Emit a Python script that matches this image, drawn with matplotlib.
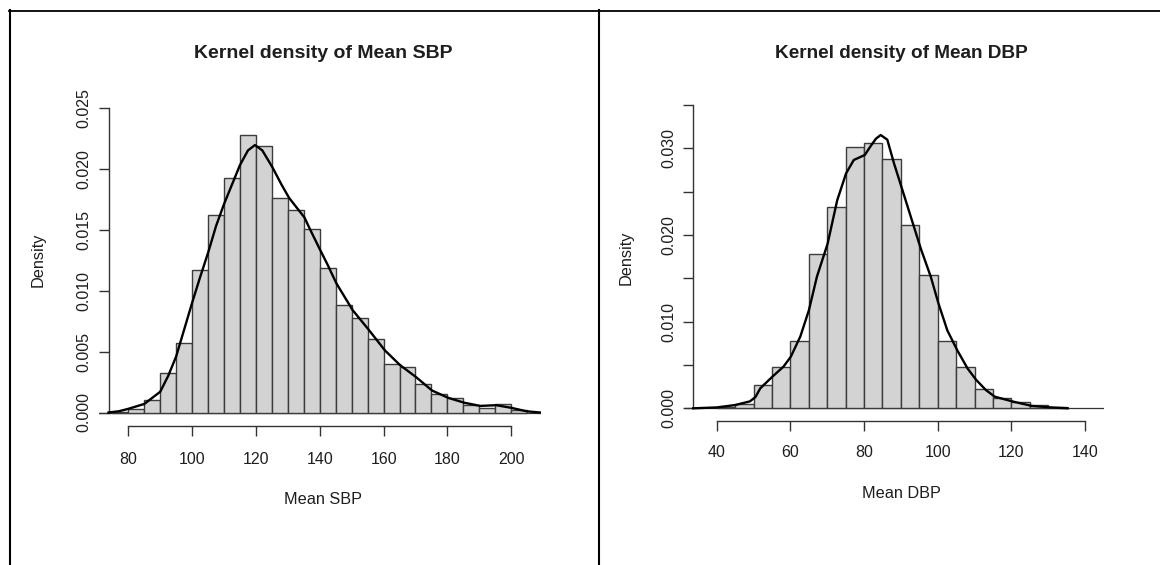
import numpy as np
import matplotlib.pyplot as plt

plt.rcParams['font.family'] = ['Liberation Sans', 'DejaVu Sans']

# ---- Mean SBP: histogram (density scale, bin width 5) and kernel density ----
sbp_bin_left = [75, 80, 85, 90, 95, 100, 105, 110, 115, 120, 125, 130, 135,
                140, 145, 150, 155, 160, 165, 170, 175, 180, 185, 190, 195, 200]
sbp_density = [0.00008, 0.00025, 0.00101, 0.00321, 0.00573, 0.01172, 0.01617,
               0.01927, 0.02276, 0.02183, 0.01763, 0.01658, 0.01507, 0.01186,
               0.00884, 0.00774, 0.00601, 0.00395, 0.00371, 0.00233, 0.00148,
               0.00120, 0.00060, 0.00041, 0.00066, 0.00020]
sbp_kde_x = [73.8, 77, 80, 85, 90, 92.5, 95, 97.5, 100, 102.5, 105, 107.5, 110,
             112.5, 115, 117.5, 119.7, 122, 125.2, 128, 130.4, 135.2, 137, 140,
             142.5, 145.2, 150.3, 155.3, 160.4, 165.1, 170.2, 175.2, 180.3,
             185.3, 190.3, 195.3, 200.1, 204.8, 209]
sbp_kde_y = [0.0, 0.0001, 0.0003, 0.0007, 0.0017, 0.0030, 0.0046, 0.0068,
             0.0090, 0.0111, 0.0131, 0.0153, 0.0171, 0.0187, 0.0203, 0.0215,
             0.02194, 0.0215, 0.0201, 0.0187, 0.0176, 0.0160, 0.0150, 0.0134,
             0.0121, 0.0106, 0.0084, 0.0068, 0.0051, 0.0039, 0.0029, 0.0018,
             0.0012, 0.0008, 0.00054, 0.0006, 0.00038, 0.0001, 0.0]
sbp_xticks = [80, 100, 120, 140, 160, 180, 200]
sbp_yticks = [0.000, 0.005, 0.010, 0.015, 0.020, 0.025]
sbp_ylabels = ['0.000', '0.005', '0.010', '0.015', '0.020', '0.025']

# ---- Mean DBP ----
dbp_bin_left = [40, 45, 50, 55, 60, 65, 70, 75, 80, 85, 90, 95, 100, 105,
                110, 115, 120, 125, 130]
dbp_density = [0.00015, 0.00050, 0.00272, 0.00473, 0.00777, 0.01784, 0.02326,
               0.03019, 0.03058, 0.02873, 0.02115, 0.01538, 0.00777, 0.00473,
               0.00223, 0.00115, 0.00077, 0.00040, 0.00010]
dbp_kde_x = [33.6, 40, 45, 49, 50.5, 51.8, 55.1, 58.1, 60.1, 62.7, 65.0, 67.2,
             70.1, 72.7, 75.1, 77.2, 80.2, 81.7, 83.2, 84.5, 86.3, 88.1, 90.4,
             93.5, 95.5, 98.1, 100.2, 102.6, 105.3, 108.1, 110.4, 113.1, 115.5,
             120.5, 125.6, 130.8, 135.3]
dbp_kde_y = [0.0, 0.0001, 0.00038, 0.0008, 0.0013, 0.0023, 0.00365, 0.0048,
             0.00595, 0.0083, 0.0113, 0.0152, 0.0190, 0.0240, 0.0271, 0.02865,
             0.02923, 0.0302, 0.0311, 0.03153, 0.0310, 0.0283, 0.0252, 0.0210,
             0.0183, 0.0152, 0.0121, 0.0090, 0.0067, 0.0046, 0.0033, 0.0021,
             0.00134, 0.00077, 0.00027, 0.0001, 0.0]
dbp_xticks = [40, 60, 80, 100, 120, 140]
dbp_yticks = [0.000, 0.005, 0.010, 0.015, 0.020, 0.025, 0.030, 0.035]
dbp_ylabels = ['0.000', '', '0.010', '', '0.020', '', '0.030', '']

W, H = 1160, 565
fig = plt.figure(figsize=(W / 100, H / 100), dpi=100)
INK = '#1e1e1e'
BAR_FILL = '#d3d3d3'
BAR_EDGE = '#3c3c3c'


def panel(box, xmap, ymap, spine_px, bins, dens, kx, ky, xticks, yticks,
          ylabels, title, xlabel, ylabel_x, ylabel_y, title_x, title_size,
          xpad, xlab_y):
    left, top, right, bottom = box
    ax = fig.add_axes([left / W, 1 - bottom / H, (right - left) / W,
                       (bottom - top) / H])
    x0, xs = xmap    # data value at pixel 0 offset, pixels per unit
    z0, ys = ymap    # pixel row of zero density, pixels per unit
    to_x = lambda px: x0[0] + (px - x0[1]) / xs
    to_y = lambda py: (z0 - py) / ys
    ax.set_xlim(to_x(left), to_x(right))
    ax.set_ylim(to_y(bottom), to_y(top))

    ax.bar(bins, dens, width=5, align='edge', color=BAR_FILL,
           edgecolor=BAR_EDGE, linewidth=1.0, zorder=2)
    ax.axhline(0, color='#333333', linewidth=0.9, zorder=1)
    ax.plot(kx, ky, color='black', linewidth=1.7, zorder=3,
            solid_joinstyle='round')

    for s in ('top', 'right'):
        ax.spines[s].set_visible(False)
    ax.spines['left'].set_position(('data', to_x(spine_px[0])))
    ax.spines['left'].set_bounds(yticks[0], yticks[-1])
    ax.spines['bottom'].set_position(('data', to_y(spine_px[1])))
    ax.spines['bottom'].set_bounds(xticks[0], xticks[-1])
    for s in ('left', 'bottom'):
        ax.spines[s].set_color('#333333')
        ax.spines[s].set_linewidth(1.0)

    ax.set_xticks(xticks)
    ax.set_xticklabels([str(t) for t in xticks])
    ax.set_yticks(yticks)
    ax.set_yticklabels(ylabels)
    ax.tick_params(axis='both', direction='out', length=7, width=1.0,
                   color='#333333', labelcolor=INK, labelsize=11.5)
    ax.tick_params(axis='x', pad=xpad)
    ax.tick_params(axis='y', pad=5.5, labelrotation=90)
    for lab in ax.get_yticklabels():
        lab.set_verticalalignment('center')
    ax.patch.set_alpha(0)

    fig.text(title_x / W, 1 - 54 / H, title, ha='center', va='center',
             fontsize=title_size, fontweight='bold', color=INK)
    fig.text(title_x / W, 1 - xlab_y / H, xlabel, ha='center', va='center',
             fontsize=11.7, color=INK)
    fig.text(ylabel_x / W, 1 - ylabel_y / H, 'Density', ha='center',
             va='center', rotation=90, fontsize=11.7, color=INK)
    return ax


panel(box=(99, 95, 541, 440), xmap=((80, 128.3), 3.191), ymap=(412.5, 12190),
      spine_px=(108.5, 426), bins=sbp_bin_left, dens=sbp_density,
      kx=sbp_kde_x, ky=sbp_kde_y, xticks=sbp_xticks, yticks=sbp_yticks,
      ylabels=sbp_ylabels, title='Kernel density of Mean SBP',
      xlabel='Mean SBP', ylabel_x=38, ylabel_y=260, title_x=323,
      title_size=14, xpad=11.5, xlab_y=499)

panel(box=(684.6, 95, 1103.6, 440), xmap=((40, 716.8), 3.682),
      ymap=(408.3, 8667), spine_px=(693.3, 420.7), bins=dbp_bin_left,
      dens=dbp_density, kx=dbp_kde_x, ky=dbp_kde_y, xticks=dbp_xticks,
      yticks=dbp_yticks, ylabels=dbp_ylabels,
      title='Kernel density of Mean DBP', xlabel='Mean DBP', ylabel_x=626,
      ylabel_y=258, title_x=901, title_size=13.7, xpad=10.3, xlab_y=493)

# table rules framing the two panels
frame = fig.add_axes([0, 0, 1, 1])
frame.set_xlim(0, W)
frame.set_ylim(H, 0)
frame.axis('off')
frame.plot([9, W], [10.5, 10.5], color='black', linewidth=1.3)
frame.plot([9.6, 9.6], [10, H], color='black', linewidth=1.5)
frame.plot([598.8, 598.8], [10, H], color='black', linewidth=1.5)

fig.savefig('out.png', dpi=100)
